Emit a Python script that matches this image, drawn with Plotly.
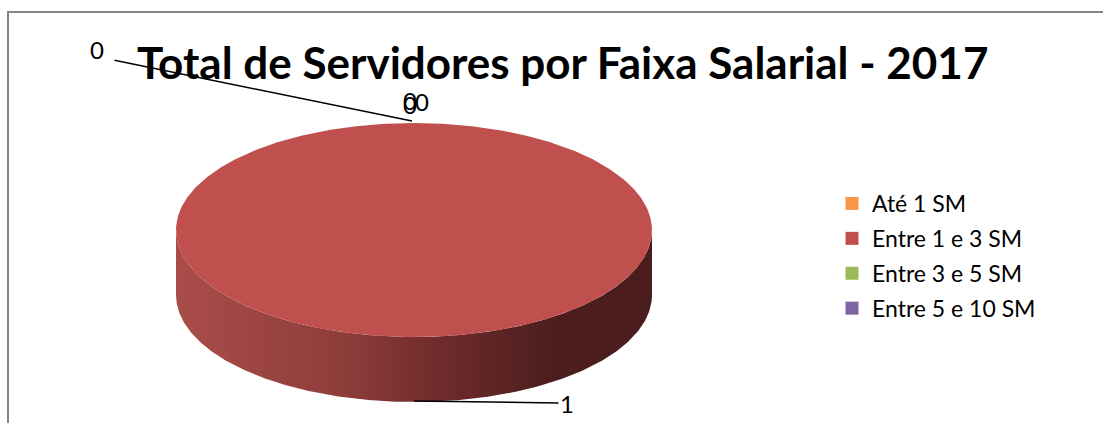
import numpy as np
import plotly.graph_objects as go

# ---- data ----
categories = ["Até 1 SM", "Entre 1 e 3 SM", "Entre 3 e 5 SM", "Entre 5 e 10 SM"]
values = [0, 1, 0, 0]
colors = ["#F79646", "#C0504D", "#9BBB59", "#8064A2"]
title_text = "Total de Servidores por Faixa Salarial - 2017"

# ---- geometry (pixel space) ----
W, H = 1103, 423
cx, cy, rx, ry, depth = 414, 230, 238, 107, 65

def pt(theta, dy=0.0):
    return cx + rx * np.cos(theta), cy - ry * np.sin(theta) + dy

fig = go.Figure()

total = float(sum(values))
start = np.pi / 2
slices = []
for cat, v, col in zip(categories, values, colors):
    sweep = 2 * np.pi * v / total
    t0, t1 = start, start - sweep
    slices.append((cat, v, col, t0, t1))
    start = t1

# side walls (front half only)
for cat, v, col, t0, t1 in slices:
    if v <= 0:
        continue
    th = np.linspace(t0, t1, 721)
    front = th[np.sin(th) <= 0]
    if len(front) < 2:
        continue
    xt, yt = pt(front)
    xb, yb = pt(front[::-1], depth)
    fig.add_trace(go.Scatter(
        x=np.concatenate([xt, xb, xt[:1]]), y=np.concatenate([yt, yb, yt[:1]]),
        mode="lines", line=dict(width=0), fill="toself",
        fillgradient=dict(type="horizontal",
                          colorscale=[[0, "#AA4D4A"], [0.35, "#8E3D3B"],
                                      [0.6, "#682828"], [0.78, "#4E1E1E"], [1, "#4A1C1C"]]),
        hoverinfo="skip", showlegend=False))

# top faces
for cat, v, col, t0, t1 in slices:
    if v <= 0:
        continue
    th = np.linspace(t0, t1, 721)
    xs, ys = pt(th)
    if v < total:
        xs = np.concatenate([[cx], xs, [cx]])
        ys = np.concatenate([[cy], ys, [cy]])
    fig.add_trace(go.Scatter(x=xs, y=ys, mode="lines", line=dict(width=0, color=col),
                             fill="toself", fillcolor=col, name=cat,
                             hoverinfo="skip", showlegend=False))

# legend entries
for cat, col in zip(categories, colors):
    fig.add_trace(go.Scatter(x=[None], y=[None], mode="markers", name=cat,
                             marker=dict(symbol="square", size=13, color=col),
                             legendgroup=cat))

# data labels
label_font = dict(family="Lato, Open Sans, sans-serif", size=24, color="#000000")
zero_offsets = [(97, 51), (410, 100), (422, 101)]
zi = 0
for cat, v, col, t0, t1 in slices:
    mid = (t0 + t1) / 2
    if v <= 0:
        ax_, ay_ = pt(mid)
        tx, ty = zero_offsets[zi]
        if zi == 0:
            fig.add_annotation(x=ax_ - 2, y=ay_ - 2, ax=tx + 16, ay=ty + 9,
                               axref="x", ayref="y", text="", showarrow=True,
                               arrowhead=0, arrowwidth=1.5, arrowcolor="#000000", standoff=0)
            fig.add_annotation(x=tx, y=ty - 2, text=str(v), showarrow=False, font=label_font)
        else:
            fig.add_annotation(x=tx, y=ty, text=str(v), showarrow=False, font=label_font)
        zi += 1
    else:
        bx, by = pt(mid, depth if np.sin(mid) < 0 else 0)
        fig.add_annotation(x=bx, y=by - 1, ax=567, ay=403, axref="x", ayref="y",
                           text=str(v), showarrow=True, arrowhead=0, arrowwidth=1.5,
                           arrowcolor="#000000", font=label_font, standoff=0)
# overlapping zero (as in reference)
fig.add_annotation(x=410, y=104, text="0", showarrow=False, font=label_font)

# title
fig.add_annotation(x=562, y=62, text="<b>" + title_text + "</b>", showarrow=False,
                   font=dict(family="Lato, Open Sans, sans-serif", size=44, color="#000000"))

# chart border
fig.add_shape(type="rect", x0=8, y0=12, x1=W + 10, y1=H + 10,
              line=dict(color="#868686", width=2), layer="above")

fig.update_layout(
    width=W, height=H, margin=dict(l=0, r=0, t=0, b=0),
    paper_bgcolor="#FFFFFF", plot_bgcolor="#FFFFFF",
    xaxis=dict(range=[0, W], visible=False, fixedrange=True),
    yaxis=dict(range=[H, 0], visible=False, fixedrange=True),
    showlegend=True,
    legend=dict(x=832 / W, y=1 - 182 / H, xanchor="left", yanchor="top",
                font=dict(family="Lato, Open Sans, sans-serif", size=23, color="#000000"),
                bgcolor="rgba(0,0,0,0)", tracegroupgap=2, itemwidth=30),
)

fig.write_html("out.html", config={"displayModeBar": False},
               post_script="document.body.style.margin='0';document.body.style.overflow='hidden';")
